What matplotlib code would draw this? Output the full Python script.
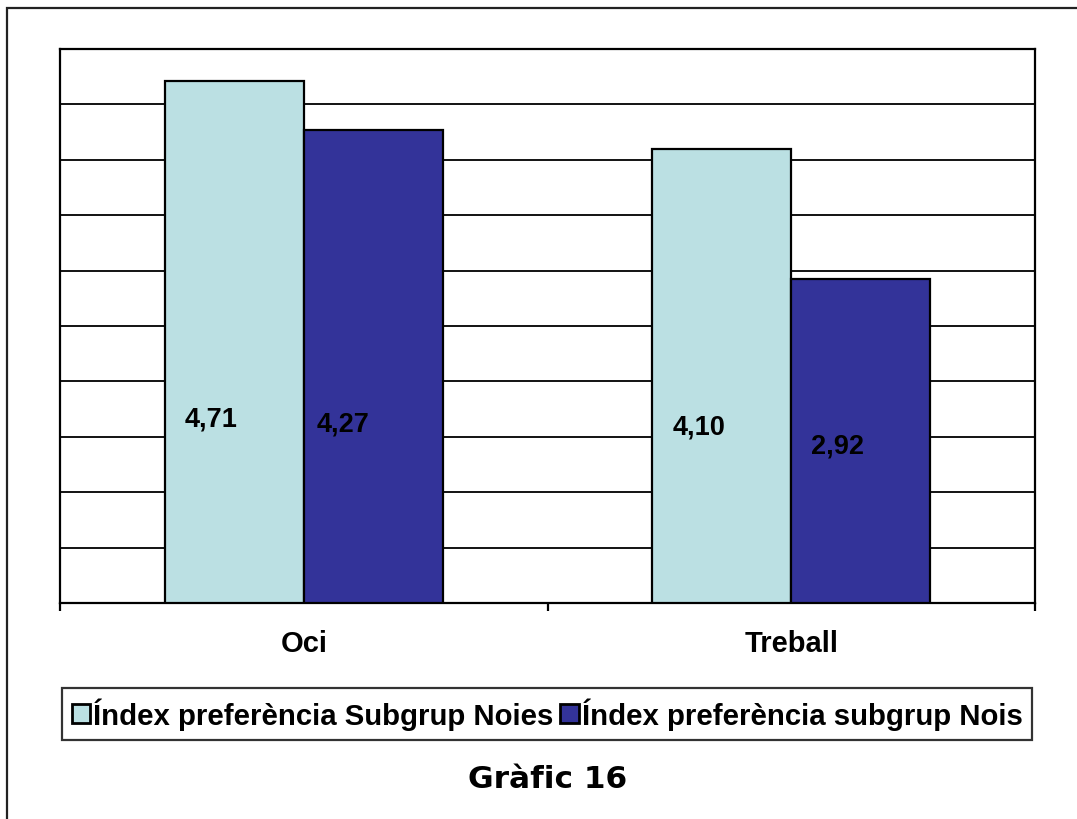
import matplotlib
matplotlib.use('Agg')
import matplotlib.pyplot as plt
from matplotlib.patches import Rectangle
import numpy as np

# dades del gràfic
categories = ['Oci', 'Treball']
noies = [4.71, 4.10]
nois = [4.27, 2.92]
series_names = ['Índex preferència Subgrup Noies', 'Índex preferència subgrup Nois']
colors = ['#BBE0E3', '#333399']

# posició manual de les etiquetes (desplaçament x, alçada de la línia base)
label_dx = [[-0.048, -0.061], [-0.046, -0.047]]
label_base = [[1.60, 1.56], [1.53, 1.355]]

plt.rcParams['font.family'] = ['Liberation Sans', 'DejaVu Sans']
fig = plt.figure(figsize=(10.77, 8.2), dpi=100)
ax = fig.add_axes([60/1077, 216/820, 975/1077, 554/820])

x = np.arange(len(categories))
w = 0.285
series = [noies, nois]
for k, vals in enumerate(series):
    pos = x - w + k*w
    ax.bar(pos, vals, width=w, align='edge', color=colors[k], edgecolor='black',
           linewidth=1.6, label=series_names[k], zorder=3)
    for i, v in enumerate(vals):
        ax.text(pos[i] + w/2 + label_dx[i][k], label_base[i][k], ('%.2f' % v).replace('.', ','),
                ha='center', va='baseline', fontsize=19.5, fontweight='bold', zorder=4)

ax.set_xlim(-0.5, 1.5)
ax.set_ylim(0, 5)
ax.set_yticks(np.arange(0, 5.01, 0.5))
ax.yaxis.grid(True, color='black', linewidth=1.3, zorder=0)
ax.tick_params(axis='y', length=0, labelleft=False)

# marques entre categories i noms de categoria
ax.set_xticks([-0.5, 0.5, 1.5])
ax.set_xticklabels([])
ax.tick_params(axis='x', which='major', direction='out', length=6, width=1.6, color='black')
ax.set_xticks(x, minor=True)
ax.set_xticklabels(categories, minor=True, fontsize=21, fontweight='bold')
ax.tick_params(axis='x', which='minor', length=0, pad=19)
for s in ax.spines.values():
    s.set_linewidth(1.6)
    s.set_color('black')

leg = ax.legend(loc='center', bbox_to_anchor=(0.4995, -0.2),
                ncol=2, prop={'weight': 'bold', 'size': 21.2},
                handlelength=0.62, handleheight=0.62, handletextpad=0.1, columnspacing=0.25,
                borderpad=0.33, borderaxespad=0, fancybox=False, frameon=True)
leg.get_frame().set_edgecolor('black')
leg.get_frame().set_linewidth(1.6)
for h in leg.legend_handles:
    h.set_linewidth(2)

fig.text(548/1077, 1 - 780/820, 'Gràfic 16', ha='center', va='center',
         fontsize=22.5, fontweight='bold', family='DejaVu Sans')

# marc exterior
fig.patches.append(Rectangle((7/1077, -0.1), 2, (820 - 9)/820 + 0.1, transform=fig.transFigure,
                             fill=False, edgecolor='#222222', linewidth=1.6))

fig.savefig('out.png', dpi=100)
